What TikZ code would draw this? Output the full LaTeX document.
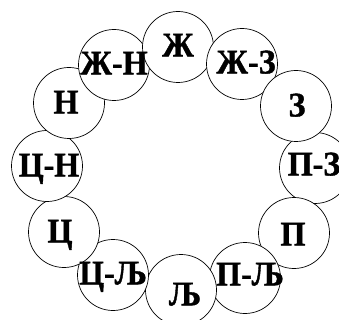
\documentclass[tikz,border=0pt]{standalone}
\usepackage{graphicx}
\usepackage{fontspec}
\setmainfont{Liberation Serif}[BoldFeatures={FakeBold=1.2}]
\newcommand{\tagtext}[1]{\scalebox{1}[1.08]{\bfseries #1}}
\begin{document}
\begin{tikzpicture}[x=1pt,y=-1pt,
  ring/.style={circle, draw=black, fill=white, line width=0.7pt,
    minimum size=71pt, inner sep=0pt},
  tag/.style={font=\fontsize{32}{32}\selectfont,
    text height=22.9pt, text depth=0pt, inner sep=0pt}]
\useasboundingbox (0,0) rectangle (339,320);

% ring of circles, drawn in stacking order
\node[ring] (pz) at (315,168) {};
\node[ring] (p)  at (294,233) {};
\node[ring] (plj) at (245,278) {};
\node[ring] (lj) at (181,290) {};
\node[ring] (clj) at (113,275) {};
\node[ring] (c)  at (64,232) {};
\node[ring] (cn) at (47,166) {};
\node[ring] (n)  at (69,103) {};
\node[ring] (zhn) at (114,65) {};
\node[ring] (zh) at (178,47) {};
\node[ring] (zhz) at (242,64) {};
\node[ring] (z)  at (296,106) {};

% letters on top of all circles
\node[tag] (tzh)  at (178,45)  {\tagtext{Ж}};
\node[tag] (tzhz) at (246,62)  {\tagtext{Ж-З}};
\node[tag] (tz)   at (297,105) {\tagtext{З}};
\node[tag] (tpz)  at (314,164) {\tagtext{П-З}};
\node[tag] (tp)   at (293,234) {\tagtext{П}};
\node[tag] (tplj) at (250,274) {\tagtext{П-Љ}};
\node[tag] (tlj)  at (185,294) {\tagtext{Љ}};
\node[tag] (tclj) at (113,273) {\tagtext{Ц-Љ}};
\node[tag] (tc)   at (60,231)  {\tagtext{Ц}};
\node[tag] (tcn)  at (49,165)  {\tagtext{Ц-Н}};
\node[tag] (tn)   at (66,102)  {\tagtext{Н}};
\node[tag] (tzhn) at (114,63)  {\tagtext{Ж-Н}};
\end{tikzpicture}
\end{document}
